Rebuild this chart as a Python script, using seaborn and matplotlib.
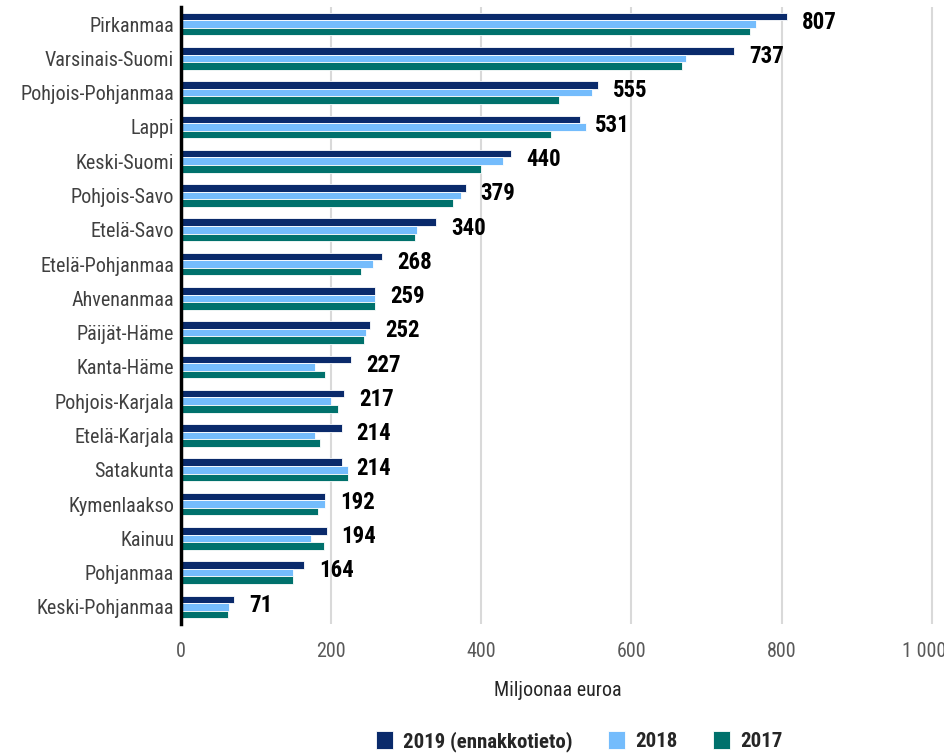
import matplotlib
matplotlib.use("Agg")
import matplotlib.pyplot as plt
import matplotlib.transforms as mtransforms
import seaborn as sns
import pandas as pd

# maakunnat, ylhäältä alas
regions = ["Pirkanmaa", "Varsinais-Suomi", "Pohjois-Pohjanmaa", "Lappi", "Keski-Suomi",
           "Pohjois-Savo", "Etelä-Savo", "Etelä-Pohjanmaa", "Ahvenanmaa", "Päijät-Häme",
           "Kanta-Häme", "Pohjois-Karjala", "Etelä-Karjala", "Satakunta", "Kymenlaakso",
           "Kainuu", "Pohjanmaa", "Keski-Pohjanmaa"]
v2019 = [807, 737, 555, 531, 440, 379, 340, 268, 259, 252, 227, 217, 214, 214, 192, 194, 164, 71]
v2018 = [766, 672, 548, 539, 429, 373, 314, 256, 259, 246, 179, 200, 179, 222, 192, 173, 149, 64]
v2017 = [758, 667, 503, 493, 400, 362, 312, 240, 259, 244, 192, 209, 185, 222, 183, 190, 149, 62]
series = ["2019 (ennakkotieto)", "2018", "2017"]
colors = ["#0a2a6b", "#74bcfc", "#00716c"]
xticks = [0, 200, 400, 600, 800, 1000]
xticklabels = ["0", "200", "400", "600", "800", "1 000"]

df = pd.DataFrame({
    "region": regions * 3,
    "value": v2019 + v2018 + v2017,
    "year": [series[0]] * 18 + [series[1]] * 18 + [series[2]] * 18,
})

sns.set_style("white")
plt.rcParams["font.family"] = ["Roboto Condensed", "Open Sans Condensed", "DejaVu Sans"]
plt.rcParams["font.stretch"] = "condensed"

fig = plt.figure(figsize=(9.45, 7.54), dpi=100)
ax = fig.add_axes([181 / 945, 1 - 624 / 754, (934 - 181) / 945, (624 - 7) / 754])

sns.barplot(data=df, y="region", x="value", hue="year", hue_order=series,
            palette=colors, saturation=1, orient="h", width=0.66, edgecolor="white",
            linewidth=0.6, ax=ax, legend=True)

ax.set_xlim(0, 1003)
ax.set_xticks(xticks)
ax.set_xticklabels(xticklabels)
ax.tick_params(axis="x", length=0, labelsize=14.5, labelcolor="#595959", pad=13)
ax.tick_params(axis="y", length=0, labelsize=14.5, labelcolor="#404040", pad=5)
# viimeinen tikki hieman vasemmalle, kuten alkuperäisessä
last = ax.get_xticklabels()[-1]
last.set_transform(last.get_transform() + mtransforms.ScaledTranslation(-8 / 100, 0, fig.dpi_scale_trans))
ax.xaxis.grid(True, color="#d9d9d9", linewidth=1.5)
ax.set_axisbelow(True)
for s in ["top", "right", "bottom"]:
    ax.spines[s].set_visible(False)
ax.spines["left"].set_color("black")
ax.spines["left"].set_linewidth(2.5)
ax.set_ylabel("")
ax.set_xlabel("Miljoonaa euroa", fontsize=14.5, color="#262626", labelpad=14)

for i, v in enumerate(v2019):
    ax.text(v + 20, i - 0.05, str(v), va="center", ha="left",
            fontsize=16.5, fontweight="bold", color="black")

handles, labels = ax.get_legend_handles_labels()
ax.get_legend().remove()
fig.legend(handles, labels, loc="lower center", bbox_to_anchor=(0.613, -0.022), ncol=3,
           frameon=False, handlelength=0.8, handleheight=0.9, columnspacing=1.7,
           handletextpad=0.5, prop={"size": 15, "weight": "bold"})

fig.savefig("out.png", dpi=100)
